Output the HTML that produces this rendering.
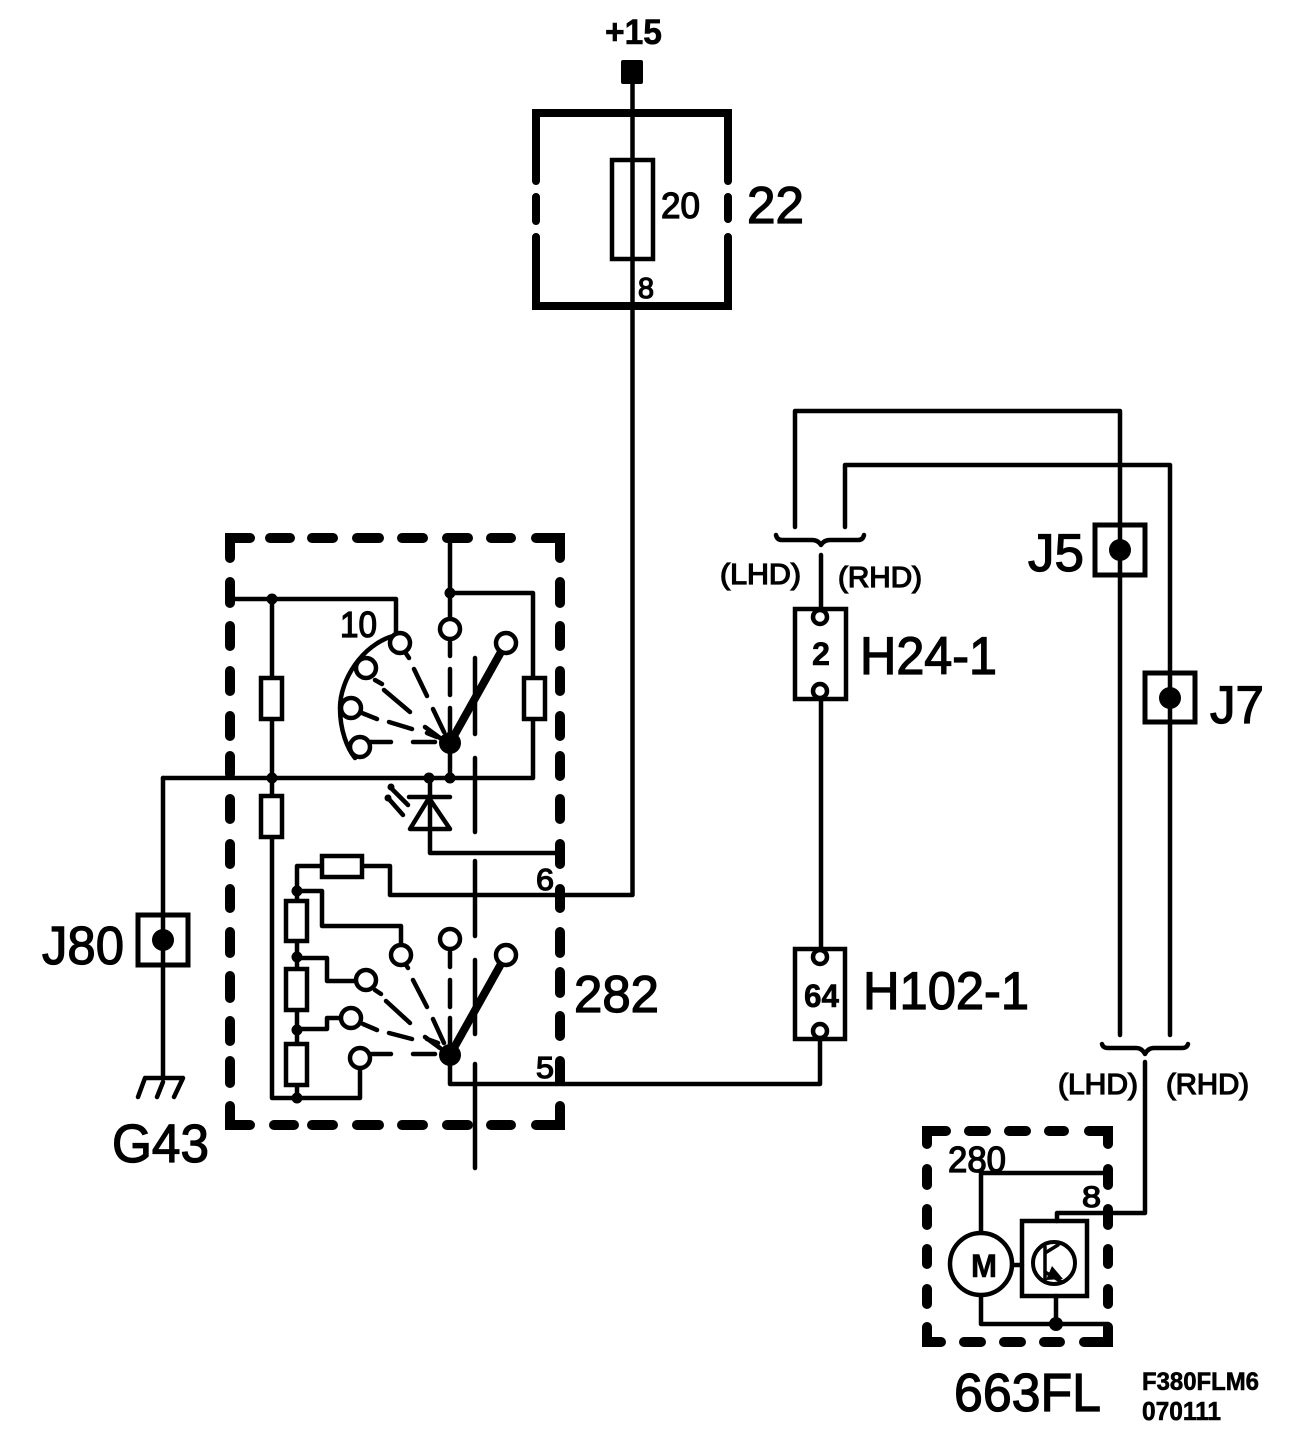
<!DOCTYPE html>
<html>
<head>
<meta charset="utf-8">
<title>F380FLM6</title>
<style>
html,body{margin:0;padding:0;background:#fff}
svg{display:block}
text{font-family:"Liberation Sans",sans-serif;fill:#000;stroke:#000;stroke-width:1.3}
.b{font-weight:bold;stroke-width:.6}
.w{fill:none;stroke:#000;stroke-width:4.5;stroke-linejoin:round;stroke-linecap:round}
.d{fill:none;stroke:#000;stroke-width:10;stroke-linejoin:miter;stroke-linecap:round}
.t{fill:none;stroke:#000;stroke-width:8;stroke-linecap:round;stroke-linejoin:miter}
.c{fill:#fff;stroke:#000;stroke-width:4.5}
.r{fill:#fff;stroke:#000;stroke-width:4.5}
.f{fill:#000;stroke:none}
</style>
</head>
<body>
<svg width="1312" height="1448" viewBox="0 0 1312 1448" xmlns="http://www.w3.org/2000/svg">
<rect width="1312" height="1448" fill="#fff"/>

<!-- Fuse box 22 -->
<path class="t" d="M536 181V113H728V181M536 237V306H728V237M536 197V221M728 197V219"/>
<rect x="612" y="160" width="41" height="99" fill="none" stroke="#000" stroke-width="4.5"/>
<rect class="f" x="621" y="60" width="22" height="24" rx="2"/>
<path class="w" d="M632.5 84V895H390V866H362M322 866H297V891"/>

<!-- Dashed box 282 -->
<path class="d" d="M230 558V538H250M270 538H290M312 538H333M357 538H379M402 538H423M447 538H468M491 538H511M536 538H560V558"/>
<path class="d" d="M230 582V603M230 626V646M230 671V691M230 716V736M230 756V774M230 799V819M230 844V864M230 889V908M230 932V953M230 976V998M230 1021V1041M230 1061V1083M230 1106V1125H250M274 1125H294M312 1125H333M357 1125H379M402 1125H423M447 1125H468M491 1125H511M536 1125H560V1106"/>
<path class="d" d="M560 582V603M560 626V646M560 671V691M560 716V736M560 756V776M560 799V819M560 844V864M560 889V908M560 932V953M560 972V993M560 1016V1036M560 1061V1081"/>

<!-- Vertical dashed mechanical link -->
<path class="w" d="M475 658V734M475 758V832M475 861V936M475 960V1034M475 1064V1168"/>

<!-- Upper section wiring -->
<path class="w" d="M230 599H396V634M450 538V619M450 593H533V778M163 778H533M272 599V1098H360V1068"/>
<path class="w" d="M163 778V1077M145 1078H183M145 1078L138 1097M163 1082L157 1097M183 1078L174 1097"/>
<rect class="r" x="261" y="678" width="21" height="41"/>
<rect class="r" x="261" y="796" width="21" height="41"/>
<rect class="r" x="524" y="678" width="21" height="41"/>
<circle class="f" cx="272" cy="599" r="5.5"/>
<circle class="f" cx="450" cy="593" r="5.5"/>
<circle class="f" cx="272" cy="778" r="5.5"/>
<circle class="f" cx="450" cy="778" r="5.5"/>
<circle class="f" cx="429" cy="778" r="5.5"/>

<!-- Upper switch -->
<path class="w" d="M393 636C362 645 340 680 340 708C340 730 347 748 355 758"/>
<path class="w" d="M405 652L409 658M414 669L427 696M433 709L444 732M375 680L382 684M384 690L410 712M425 727L440 738M362 713L377 719M389 722L412 729M427 733L437 737M370 742L391 742M413 742L435 742M450 642V656M450 669V695M450 708V737M450 743V778"/>
<path d="M450 743L506 643" stroke="#000" stroke-width="8" fill="none"/>
<circle class="c" cx="400" cy="643" r="10"/>
<circle class="c" cx="366" cy="668" r="10"/>
<circle class="c" cx="351" cy="708" r="10"/>
<circle class="c" cx="360" cy="747" r="10"/>
<circle class="c" cx="450" cy="629" r="10"/>
<circle class="c" cx="506" cy="643" r="10"/>
<circle class="f" cx="450" cy="743" r="11"/>

<!-- Diode -->
<path class="w" d="M430 778V853H560M409 797H450M429 798L410 829H450Z"/>
<path class="w" d="M390 787L408 805M388 798L403 815"/>
<circle class="f" cx="391" cy="787" r="3.5"/>
<circle class="f" cx="388" cy="798" r="3.5"/>

<!-- Lower switch -->
<rect class="r" x="322" y="856" width="40" height="21"/>
<path class="w" d="M297 891H322V926H401V945M297 891V1097M297 958H327V981H356M297 1029H327V1018H341"/>
<rect class="r" x="286" y="901" width="21" height="40"/>
<rect class="r" x="286" y="969" width="21" height="41"/>
<rect class="r" x="286" y="1044" width="21" height="41"/>
<circle class="f" cx="297" cy="891" r="5.5"/>
<circle class="f" cx="297" cy="957" r="5.5"/>
<circle class="f" cx="297" cy="1030" r="5.5"/>
<circle class="f" cx="297" cy="1098" r="5.5"/>
<path class="w" d="M404 962L408 968M413 980L427 1007M433 1019L444 1043M375 990L381 994M386 1001L410 1023M425 1037L440 1048M363 1024L377 1030M389 1033L412 1039M427 1039L438 1043M372 1054L391 1054M413 1054L435 1054M450 952V967M450 980V1007M450 1018V1047M450 1055V1084H820V1039"/>
<path d="M450 1055L506 955" stroke="#000" stroke-width="8" fill="none"/>
<circle class="c" cx="401" cy="955" r="10"/>
<circle class="c" cx="366" cy="980" r="10"/>
<circle class="c" cx="351" cy="1018" r="10"/>
<circle class="c" cx="360" cy="1058" r="10"/>
<circle class="c" cx="450" cy="939" r="10"/>
<circle class="c" cx="506" cy="955" r="10"/>
<circle class="f" cx="450" cy="1055" r="11"/>

<!-- J80 -->
<rect x="138" y="915" width="50" height="50" fill="none" stroke="#000" stroke-width="5"/>
<circle class="f" cx="163" cy="940" r="11"/>

<!-- Right side wires -->
<path class="w" d="M795 527V411H1120V1035M845 527V465H1170V1035M821 555V609M821 699V949M1145 1062V1213H1057V1221"/>
<path class="w" d="M776 535Q777 540 782 540H812Q818 540 821 545Q824 540 830 540H858Q863 540 864 535"/>
<path class="w" d="M1102 1044Q1103 1048 1108 1048H1136Q1142 1048 1145 1054Q1148 1048 1154 1048H1182Q1187 1048 1188 1044"/>
<rect x="1095" y="525" width="50" height="50" fill="none" stroke="#000" stroke-width="5"/>
<circle class="f" cx="1120" cy="550" r="11"/>
<rect x="1145" y="673" width="50" height="49" fill="none" stroke="#000" stroke-width="5"/>
<circle class="f" cx="1170" cy="698" r="11"/>

<!-- Connectors -->
<rect class="r" x="795" y="609" width="51" height="90"/>
<circle class="c" cx="820" cy="617" r="7"/>
<circle class="c" cx="820" cy="691" r="7"/>
<rect class="r" x="795" y="949" width="50" height="90"/>
<circle class="c" cx="820" cy="957" r="7"/>
<circle class="c" cx="820" cy="1031" r="7"/>

<!-- Dashed box 280 -->
<path class="d" d="M927 1144V1131H946M969 1131H986M1009 1131H1026M1049 1131H1064M1089 1131H1108V1144M927 1169V1185M927 1209V1225M927 1249V1264M927 1289V1304M927 1327V1342H941M964 1342H981M1004 1342H1021M1044 1342H1060M1084 1342H1108V1327M1108 1169V1185M1108 1209V1225M1108 1249V1264M1108 1289V1304"/>
<path class="w" d="M1108 1173H981V1233M981 1295V1324H1108M1056 1296V1324M1012 1265H1022"/>
<circle cx="981" cy="1264" r="31" fill="#fff" stroke="#000" stroke-width="4.5"/>
<rect x="1022" y="1221" width="65" height="75" fill="none" stroke="#000" stroke-width="4.5"/>
<circle cx="1054" cy="1263" r="21" fill="none" stroke="#000" stroke-width="4"/>
<path class="w" d="M1045 1247V1280M1045 1253L1058 1245M1045 1272L1062 1282" style="stroke-width:3.5"/>
<path class="f" d="M1052 1266L1046 1280L1063 1279Z"/>
<circle class="f" cx="1056" cy="1324" r="7"/>

<!-- Labels -->
<text class="b" x="605" y="44" font-size="35" textLength="57" lengthAdjust="spacingAndGlyphs">+15</text>
<text x="747" y="223" font-size="52" textLength="57" lengthAdjust="spacingAndGlyphs">22</text>
<text x="661" y="218" font-size="36" textLength="39" lengthAdjust="spacingAndGlyphs">20</text>
<text x="638" y="298" font-size="29" textLength="16" lengthAdjust="spacingAndGlyphs">8</text>
<text x="574" y="1012" font-size="52" textLength="85" lengthAdjust="spacingAndGlyphs">282</text>
<text x="340" y="637" font-size="36" textLength="37" lengthAdjust="spacingAndGlyphs">10</text>
<text x="536" y="890" font-size="31" textLength="18" lengthAdjust="spacingAndGlyphs">6</text>
<text x="536" y="1078" font-size="31" textLength="18" lengthAdjust="spacingAndGlyphs">5</text>
<text x="42" y="964" font-size="54" textLength="82" lengthAdjust="spacingAndGlyphs">J80</text>
<text x="112" y="1162" font-size="54" textLength="97" lengthAdjust="spacingAndGlyphs">G43</text>
<text x="1028" y="571" font-size="53" textLength="56" lengthAdjust="spacingAndGlyphs">J5</text>
<text x="1210" y="723" font-size="53" textLength="54" lengthAdjust="spacingAndGlyphs">J7</text>
<text x="860" y="674" font-size="53" textLength="137" lengthAdjust="spacingAndGlyphs">H24-1</text>
<text x="863" y="1009" font-size="53" textLength="166" lengthAdjust="spacingAndGlyphs">H102-1</text>
<text class="b" x="812" y="665" font-size="32" textLength="18" lengthAdjust="spacingAndGlyphs">2</text>
<text class="b" x="804" y="1007" font-size="32" textLength="35" lengthAdjust="spacingAndGlyphs">64</text>
<text x="720" y="584" font-size="29" textLength="81" lengthAdjust="spacingAndGlyphs">(LHD)</text>
<text x="838" y="587" font-size="29" textLength="84" lengthAdjust="spacingAndGlyphs">(RHD)</text>
<text x="1058" y="1094" font-size="29" textLength="80" lengthAdjust="spacingAndGlyphs">(LHD)</text>
<text x="1166" y="1094" font-size="29" textLength="83" lengthAdjust="spacingAndGlyphs">(RHD)</text>
<text x="948" y="1172" font-size="36" textLength="58" lengthAdjust="spacingAndGlyphs">280</text>
<text x="1082" y="1207" font-size="30" textLength="19" lengthAdjust="spacingAndGlyphs">8</text>
<text class="b" x="971" y="1277" font-size="32" textLength="26" lengthAdjust="spacingAndGlyphs">M</text>
<text x="954" y="1411" font-size="54" textLength="147" lengthAdjust="spacingAndGlyphs">663FL</text>
<text class="b" x="1142" y="1390" font-size="25" textLength="117" lengthAdjust="spacingAndGlyphs">F380FLM6</text>
<text class="b" x="1142" y="1420" font-size="26" textLength="79" lengthAdjust="spacingAndGlyphs">070111</text>
</svg>
</body>
</html>
